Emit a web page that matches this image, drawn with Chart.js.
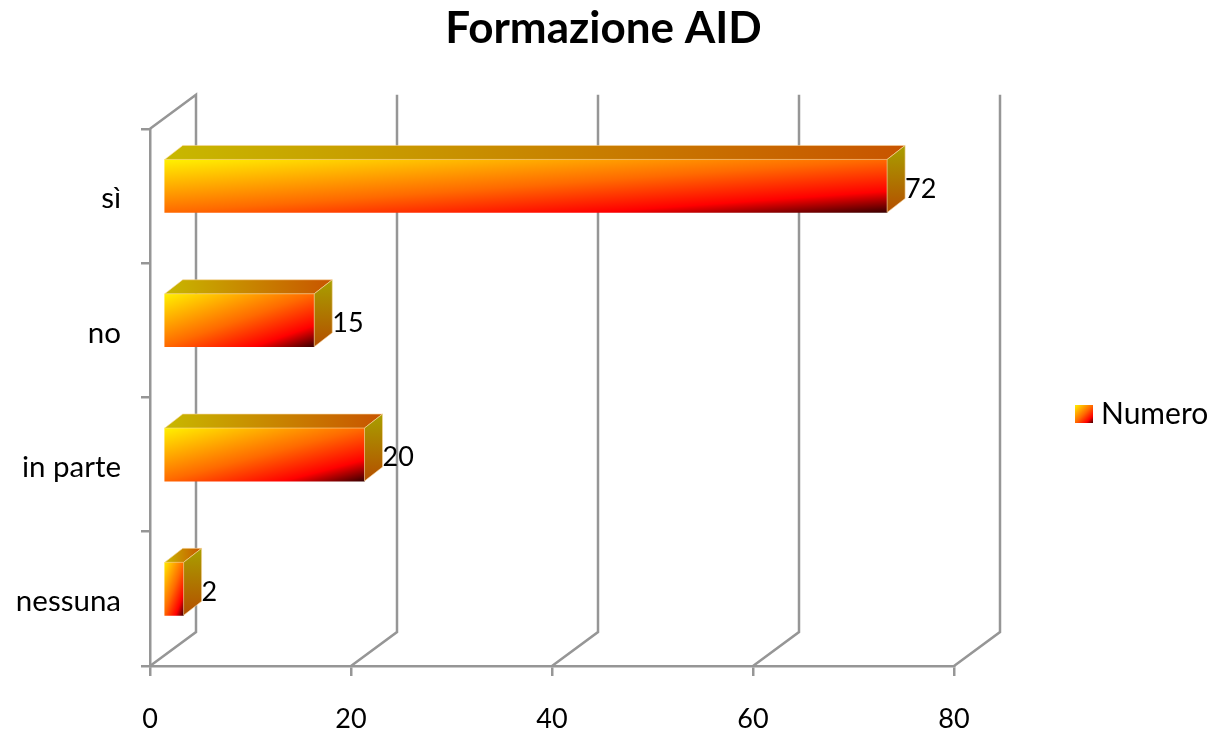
<!DOCTYPE html>
<html>
<head>
<meta charset="utf-8">
<title>Formazione AID</title>
<script src="https://cdn.jsdelivr.net/npm/chart.js@4"></script>
<style>
html, body { margin: 0; padding: 0; background: #fff; }
canvas { display: block; }
</style>
</head>
<body>
<canvas id="chart" width="1212" height="730"></canvas>
<script>
const categories = ["sì", "no", "in parte", "nessuna"];
const values = [72, 15, 20, 2];
const seriesName = "Numero";
const chartTitle = "Formazione AID";

const GRID = "#969696";
const GRID_WIDTH = 2.5;
const FONT = "Lato";
// spostamento della barra rispetto al piano frontale
const BAR_SHIFT = { x: 13.5, y: -10 };
// profondita delle barre e del fondo
const BAR_DEPTH = { x: 18, y: -14 };
const WALL_DEPTH = { x: 46, y: -34 };
const BAR_HEIGHT = 53;

// isolinee parallele all'antidiagonale del rettangolo, come nel grafico originale
function faceGradient(ctx, x, y, w, h) {
    const k = 2 * w * h / (w * w + h * h);
    const g = ctx.createLinearGradient(x, y, x + h * k, y + w * k);
    g.addColorStop(0, "#fff200");
    g.addColorStop(0.5, "#ff6a00");
    g.addColorStop(0.8, "#ff0000");
    g.addColorStop(1, "#3a0000");
    return g;
}

function barColor(context) {
    const chart = context.chart;
    if (context.dataIndex === undefined) {
        return "#ff7a00";
    }
    const x0 = chart.scales.x.getPixelForValue(0);
    const x1 = chart.scales.x.getPixelForValue(values[context.dataIndex]);
    const y = chart.scales.y.getPixelForValue(context.dataIndex) - BAR_HEIGHT / 2;
    // durante il primo passaggio le scale non hanno ancora una dimensione
    if (!Number.isFinite(x0 + x1 + y) || x1 <= x0) {
        return "#ff7a00";
    }
    return faceGradient(chart.ctx, x0, y, x1 - x0, BAR_HEIGHT);
}

function polygon(ctx, points, fill) {
    ctx.beginPath();
    points.forEach((p, i) => i ? ctx.lineTo(p[0], p[1]) : ctx.moveTo(p[0], p[1]));
    ctx.closePath();
    ctx.fillStyle = fill;
    ctx.fill();
    ctx.strokeStyle = "rgba(250, 215, 160, 0.6)";
    ctx.lineWidth = 1;
    ctx.stroke();
}

// il titolo e centrato sulla pagina, non sull'area del grafico
const titlePlugin = {
    id: "titleSpan",
    afterLayout(chart) {
        chart.titleBlock.left = 0;
        chart.titleBlock.right = 1207;
    }
};

// pareti laterali in prospettiva: griglia sul fondo e pavimento
const wallPlugin = {
    id: "wall",
    beforeDatasetsDraw(chart) {
        const ctx = chart.ctx, area = chart.chartArea, xs = chart.scales.x;
        ctx.save();
        ctx.strokeStyle = GRID;
        ctx.lineWidth = GRID_WIDTH;
        xs.ticks.forEach((tick, i) => {
            const x = xs.getPixelForTick(i);
            ctx.beginPath();
            ctx.moveTo(x, area.bottom);
            ctx.lineTo(x + WALL_DEPTH.x, area.bottom + WALL_DEPTH.y);
            ctx.lineTo(x + WALL_DEPTH.x, area.top + WALL_DEPTH.y);
            if (i === 0) {
                ctx.lineTo(x, area.top);
            }
            ctx.stroke();
        });
        ctx.restore();
    }
};

// facce superiore e laterale delle barre, etichette dei valori
const barFacesPlugin = {
    id: "barFaces",
    beforeDatasetDraw(chart) {
        chart.ctx.save();
        chart.ctx.translate(BAR_SHIFT.x, BAR_SHIFT.y);
    },
    afterDatasetDraw(chart, args) {
        const ctx = chart.ctx;
        ctx.restore();
        ctx.save();
        args.meta.data.forEach((bar, i) => {
            const left = bar.base + BAR_SHIFT.x;
            const right = bar.x + BAR_SHIFT.x;
            const top = bar.y - BAR_HEIGHT / 2 + BAR_SHIFT.y;
            const bottom = top + BAR_HEIGHT;
            const dx = BAR_DEPTH.x, dy = BAR_DEPTH.y;

            const topFill = ctx.createLinearGradient(left, 0, right + dx, 0);
            topFill.addColorStop(0, "#c8b800");
            topFill.addColorStop(1, "#c85400");
            polygon(ctx, [[left, top], [left + dx, top + dy], [right + dx, top + dy], [right, top]], topFill);

            const sideFill = ctx.createLinearGradient(0, top + dy, 0, bottom);
            sideFill.addColorStop(0, "#a8a000");
            sideFill.addColorStop(1, "#b44e00");
            polygon(ctx, [[right, top], [right + dx, top + dy], [right + dx, bottom + dy], [right, bottom]], sideFill);

            ctx.fillStyle = "#000";
            ctx.font = "27px " + FONT;
            ctx.textAlign = "left";
            ctx.textBaseline = "middle";
            ctx.fillText(String(values[i]), right + dx, top + BAR_HEIGHT / 2 + 3);
        });
        ctx.restore();
    }
};

const legendPlugin = {
    id: "sideLegend",
    afterDraw(chart) {
        const ctx = chart.ctx;
        ctx.save();
        ctx.fillStyle = faceGradient(ctx, 1075, 405, 18, 18);
        ctx.fillRect(1075, 405, 18, 18);
        ctx.fillStyle = "#000";
        ctx.font = "30px " + FONT;
        ctx.textAlign = "left";
        ctx.textBaseline = "middle";
        ctx.fillText(seriesName, 1101, 414);
        ctx.restore();
    }
};

new Chart(document.getElementById("chart"), {
    type: "bar",
    data: {
        labels: categories,
        datasets: [{
            label: seriesName,
            data: values,
            backgroundColor: barColor,
            barThickness: BAR_HEIGHT,
            clip: false
        }]
    },
    options: {
        indexAxis: "y",
        responsive: false,
        animation: false,
        devicePixelRatio: 1,
        layout: { padding: { top: 0, right: 258, bottom: 0, left: 0 } },
        plugins: {
            legend: { display: false },
            tooltip: { enabled: false },
            title: {
                display: true,
                text: chartTitle,
                color: "#000",
                font: { family: FONT, size: 44, weight: "bold" },
                padding: { top: 2, bottom: 74 }
            }
        },
        scales: {
            x: {
                min: 0,
                max: 80,
                ticks: {
                    stepSize: 20,
                    color: "#000",
                    padding: 27,
                    maxRotation: 0,
                    font: { family: FONT, size: 27 }
                },
                grid: { drawOnChartArea: false, color: GRID, lineWidth: GRID_WIDTH, tickLength: 10 },
                border: { color: GRID, width: GRID_WIDTH },
                afterFit(scale) { scale.height = 64; }
            },
            y: {
                ticks: {
                    color: "#000",
                    padding: 20,
                    labelOffset: 3,
                    font: { family: FONT, size: 29.5 }
                },
                grid: { drawOnChartArea: false, color: GRID, lineWidth: GRID_WIDTH, tickLength: 9 },
                border: { color: GRID, width: GRID_WIDTH },
                afterFit(scale) { scale.width = 150; }
            }
        }
    },
    plugins: [titlePlugin, wallPlugin, barFacesPlugin, legendPlugin]
});
</script>
</body>
</html>
